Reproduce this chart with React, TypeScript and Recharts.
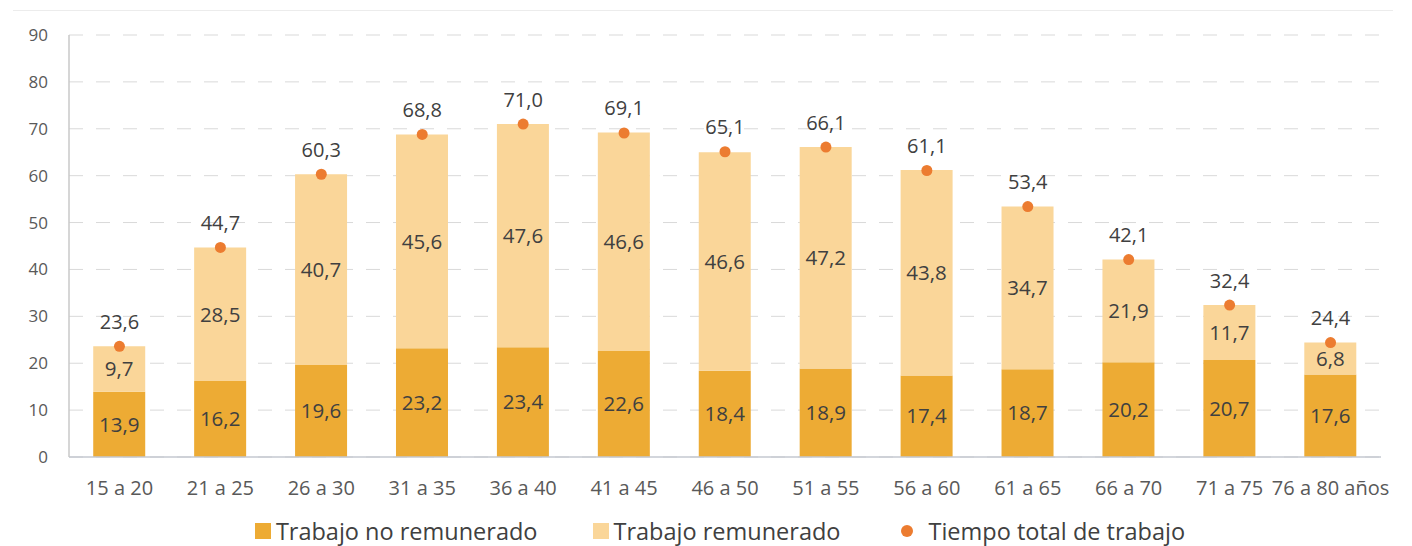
import React from 'react';
import { ComposedChart, Bar, Line, XAxis, YAxis, CartesianGrid, LabelList } from 'recharts';

const categories = ['15 a 20', '21 a 25', '26 a 30', '31 a 35', '36 a 40', '41 a 45', '46 a 50', '51 a 55', '56 a 60', '61 a 65', '66 a 70', '71 a 75', '76 a 80 años'];
const unpaid = [13.9, 16.2, 19.6, 23.2, 23.4, 22.6, 18.4, 18.9, 17.4, 18.7, 20.2, 20.7, 17.6];
const paid = [9.7, 28.5, 40.7, 45.6, 47.6, 46.6, 46.6, 47.2, 43.8, 34.7, 21.9, 11.7, 6.8];
const total = [23.6, 44.7, 60.3, 68.8, 71.0, 69.1, 65.1, 66.1, 61.1, 53.4, 42.1, 32.4, 24.4];
const yTicks = [0, 10, 20, 30, 40, 50, 60, 70, 80, 90];

const data = categories.map((name, i) => ({ name, unpaid: unpaid[i], paid: paid[i], total: total[i] }));

const DARK = '#EDAB34';
const LIGHT = '#FAD699';
const DOT = '#EC7C30';
const FONT = '"Open Sans", sans-serif';

const fmt = (v: any) => Number(v).toFixed(1).replace('.', ',');

const TotalLabel = (props: any) => {
  const { x, y, value } = props;
  return (
    <text x={x} y={y - 25} textAnchor="middle" dominantBaseline="central" fill="#404040" fontSize={20} fontFamily={FONT}>
      {fmt(value)}
    </text>
  );
};

const Dot = (props: any) => {
  const { cx, cy, index } = props;
  return <circle key={index} cx={cx} cy={cy} r={5.5} fill={DOT} />;
};

export default function App() {
  return (
    <div style={{ position: 'absolute', left: 0, top: 0, width: 1412, height: 546, background: '#fff', fontFamily: FONT }}>
      <div style={{ position: 'absolute', left: 13, top: 10, width: 1380, height: 0, borderTop: '1px solid #ececec' }} />
      <ComposedChart
        width={1412}
        height={546}
        data={data}
        margin={{ top: 35, right: 31, bottom: 49, left: 0 }}
        barCategoryGap="24%"
      >
        <CartesianGrid vertical={false} stroke="#d9d9d9" strokeDasharray="14 13" />
        <XAxis
          dataKey="name"
          height={40}
          axisLine={{ stroke: '#c4c8d0', strokeWidth: 1.5 }}
          tickLine={false}
          tickMargin={18}
          interval={0}
          tick={{ fill: '#595959', fontSize: 20, fontFamily: FONT }}
        />
        <YAxis
          width={69}
          domain={[0, 90]}
          ticks={yTicks}
          interval={0}
          axisLine={{ stroke: '#c8c8c8', strokeWidth: 1.5 }}
          tickLine={false}
          tickSize={0}
          tickMargin={21}
          tick={{ fill: '#595959', fontSize: 17, fontFamily: FONT }}
        />
        <Bar dataKey="unpaid" stackId="a" fill={DARK} isAnimationActive={false}>
          <LabelList dataKey="unpaid" position="center" formatter={fmt} fill="#404040" fontSize={20.5} fontFamily={FONT} />
        </Bar>
        <Bar dataKey="paid" stackId="a" fill={LIGHT} isAnimationActive={false}>
          <LabelList dataKey="paid" position="center" formatter={fmt} fill="#404040" fontSize={20.5} fontFamily={FONT} />
        </Bar>
        <Line dataKey="total" stroke="none" dot={<Dot />} activeDot={false} isAnimationActive={false}>
          <LabelList dataKey="total" content={<TotalLabel />} />
        </Line>
      </ComposedChart>
      <div style={{ position: 'absolute', left: 14, top: 515, width: 1412, height: 32, display: 'flex', justifyContent: 'center', alignItems: 'center', color: '#404040', fontSize: 23.5 }}>
        <span style={{ display: 'inline-block', width: 16, height: 16, background: DARK, marginRight: 5 }} />
        <span style={{ marginRight: 55 }}>Trabajo no remunerado</span>
        <span style={{ display: 'inline-block', width: 16, height: 16, background: LIGHT, marginRight: 5 }} />
        <span style={{ marginRight: 61 }}>Trabajo remunerado</span>
        <span style={{ display: 'inline-block', width: 12, height: 12, borderRadius: 6, background: DOT, marginRight: 15 }} />
        <span>Tiempo total de trabajo</span>
      </div>
    </div>
  );
}
